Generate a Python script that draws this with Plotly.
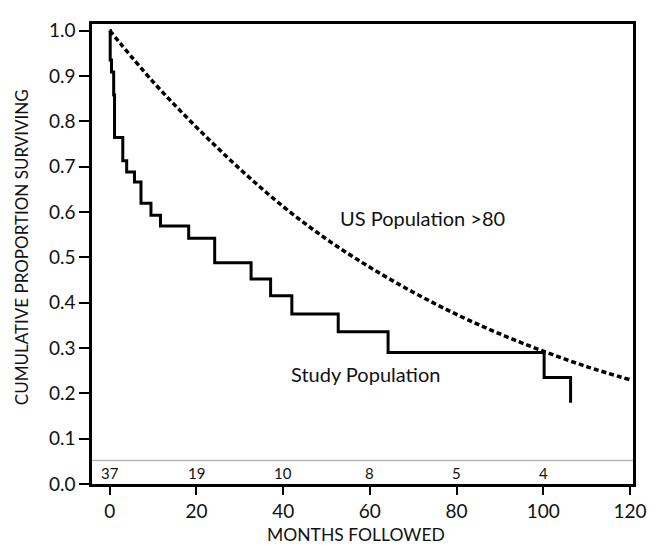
import plotly.graph_objects as go

# Study population Kaplan-Meier steps (months, proportion surviving)
study_months = [0.0, 0.1, 0.4, 0.9, 1.1, 3.0, 3.9, 5.7, 7.2, 9.5, 11.7, 18.2, 24.2,
                32.6, 37.1, 42.0, 52.7, 64.2, 100.2, 106.3]
study_surv = [1.0, 0.935, 0.909, 0.858, 0.764, 0.713, 0.688, 0.666, 0.619, 0.593, 0.569,
              0.542, 0.488, 0.452, 0.415, 0.375, 0.336, 0.290, 0.235, 0.179]

# US population >80 expected survival
us_months = [0, 10, 20, 30, 40, 50, 60, 70, 80, 90, 100, 110, 120]
us_surv = [1.0, 0.887, 0.787, 0.695, 0.612, 0.540, 0.478, 0.423, 0.374, 0.331, 0.293, 0.259, 0.230]

# Numbers at risk
risk_months = [0, 20, 40, 60, 80, 100]
risk_counts = [37, 19, 10, 8, 5, 4]

x_ticks = [0, 20, 40, 60, 80, 100, 120]
y_ticks = [0.0, 0.1, 0.2, 0.3, 0.4, 0.5, 0.6, 0.7, 0.8, 0.9, 1.0]

FONT = "Lato"
W, H = 648, 537          # page body has an 8px margin inside the 656x545 window
ML, MR, MT, MB = 84, 15, 10, 61
PW, PH = W - ML - MR, H - MT - MB

fig = go.Figure()

fig.add_trace(go.Scatter(
    x=us_months, y=us_surv, mode="lines",
    line=dict(color="black", width=3.5, dash="5px,3px", shape="spline"),
    showlegend=False, hoverinfo="skip"))

# study step line: duplicate last point to draw final vertical drop
sx = study_months[:-1] + [study_months[-1], study_months[-1]]
sy = study_surv[:-1] + [study_surv[-2], study_surv[-1]]
fig.add_trace(go.Scatter(
    x=sx, y=sy, mode="lines",
    line=dict(color="black", width=3, shape="hv"),
    showlegend=False, hoverinfo="skip"))

annotations = []
for m, c in zip(risk_months, risk_counts):
    annotations.append(dict(x=m, y=0.024, xref="x", yref="y", text=str(c), showarrow=False,
                            font=dict(family=FONT, size=15, color="#111"), xanchor="center",
                            yanchor="middle"))

annotations.append(dict(x=52.7, y=0.586, xref="x", yref="y", text="US Population >80",
                        showarrow=False, xanchor="left", yanchor="middle",
                        font=dict(family=FONT, size=20, color="#111")))
annotations.append(dict(x=41.3, y=0.242, xref="x", yref="y", text="Study Population",
                        showarrow=False, xanchor="left", yanchor="middle",
                        font=dict(family=FONT, size=20, color="#111")))

annotations.append(dict(x=(352 - ML) / PW, y=-(527 - (H - MB)) / PH, xref="paper", yref="paper",
                        text="MONTHS FOLLOWED", showarrow=False, xanchor="center",
                        yanchor="middle", font=dict(family=FONT, size=17.5, color="#111")))
annotations.append(dict(x=(12 - ML) / PW, y=0.515, xref="paper", yref="paper",
                        text="CUMULATIVE PROPORTION SURVIVING", showarrow=False,
                        textangle=-90, xanchor="center", yanchor="middle",
                        font=dict(family=FONT, size=17, color="#111")))

fig.update_layout(
    width=W, height=H,
    margin=dict(l=ML, r=MR, t=MT, b=MB),
    paper_bgcolor="white", plot_bgcolor="white",
    annotations=annotations,
    shapes=[dict(type="line", xref="paper", yref="y", x0=0, x1=1, y0=0.052, y1=0.052,
                 line=dict(color="#b8b8b8", width=1.5))],
)

fig.update_xaxes(range=[-4.1, 120.7], tickvals=x_ticks, ticks="outside", ticklen=8,
                 tickwidth=2, tickcolor="black", showline=True, linecolor="black",
                 linewidth=2.5, mirror=True, showgrid=False, zeroline=False,
                 tickfont=dict(family=FONT, size=19, color="#111"))
fig.update_yaxes(range=[0, 1.0146], tickvals=y_ticks, tickformat=".1f", ticks="outside",
                 ticklen=10, tickwidth=2, tickcolor="black", showline=True,
                 linecolor="black", linewidth=2.5, mirror=True, showgrid=False,
                 zeroline=False, tickfont=dict(family=FONT, size=19, color="#111"))

fig.write_html("out.html")
